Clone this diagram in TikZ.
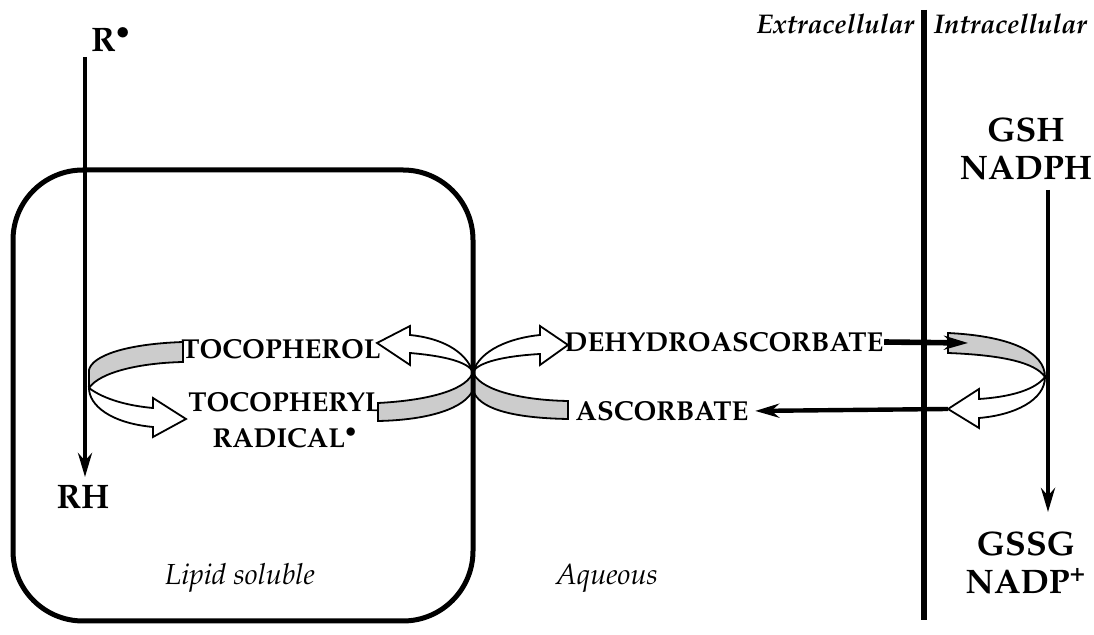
\documentclass[tikz,border=0pt]{standalone}
\usepackage[T1]{fontenc}
\usepackage{mathpazo}
\usetikzlibrary{arrows.meta}

\begin{document}
\begin{tikzpicture}[x=.5pt,y=-.5pt,line width=.9pt,
  lbl/.style={font=\fontsize{13.7}{18}\selectfont\bfseries,inner sep=0pt,align=center},
  big/.style={font=\fontsize{17}{19}\selectfont\bfseries,inner sep=0pt,align=center},
  reg/.style={font=\fontsize{14.5}{16}\selectfont\itshape,inner sep=0pt},
  rxn/.style={line width=2pt,-{Stealth[length=12pt,width=7pt]}},
  back/.style={draw,fill=black!20},
  front/.style={draw,fill=white}]
\useasboundingbox (0,0) rectangle (1094,635);
% labels
\node[big] (r) at (111,40) {R$^{\bullet}$};\node[big] (rh) at (83,497) {RH};
\node[big] (gsh) at (1026,149) {GSH\\NADPH};\node[big] (gssg) at (1026,563) {GSSG\\NADP\textsuperscript{+}};
\node[lbl] (toc) at (281,349) {TOCOPHEROL};\node[lbl] (tocr) at (285,420) {TOCOPHERYL\\RADICAL$^{\bullet}$};
\node[lbl] (dha) at (724,342) {DEHYDROASCORBATE};\node[lbl] (asc) at (662,411) {ASCORBATE};
\node[reg] (lip) at (240,578) {Lipid soluble};\node[reg] (aq) at (607,578) {Aqueous};
\node[reg,font=\fontsize{13.5}{15}\selectfont\bfseries\itshape,anchor=east] (ext) at (915,24) {Extracellular};
\node[reg,font=\fontsize{13.5}{15}\selectfont\bfseries\itshape,anchor=west] (int) at (933,24) {Intracellular};
% ribbons
\filldraw[back] (183,342) .. controls (125,344) and (92,356) .. (89,370) -- (89,388) .. controls (100,372) and (140,363) .. (183,362) -- cycle;
\filldraw[front] (89,388) .. controls (105,400) and (130,406) .. (153,408) -- (153,398) -- (186,419) -- (153,437) -- (153,427) .. controls (110,423) and (89,405) .. (89,388) -- cycle;
\filldraw[back] (378,403) .. controls (435,400) and (468,388) .. (473,372) -- (473,390) .. controls (465,408) and (430,420) .. (378,421) -- cycle;
\filldraw[front] (473,372) .. controls (465,350) and (440,338) .. (410,335) -- (410,326) -- (377,343) -- (410,365) -- (410,353) .. controls (445,356) and (468,362) .. (473,372) -- cycle;
\filldraw[front] (473,372) .. controls (480,350) and (510,338) .. (540,335) -- (540,326) -- (568,345) -- (540,365) -- (540,354) .. controls (505,356) and (478,362) .. (473,372) -- cycle;
\filldraw[back] (473,372) .. controls (478,388) and (515,400) .. (568,401) -- (568,419) .. controls (510,418) and (478,408) .. (473,390) -- cycle;
\filldraw[back] (948,333) .. controls (1010,336) and (1045,352) .. (1045,377) .. controls (1035,362) and (1000,355) .. (948,353) -- cycle;
\filldraw[front] (1045,377) .. controls (1035,390) and (1010,397) .. (979,399) -- (979,389) -- (948,409) -- (979,428) -- (979,418) .. controls (1015,415) and (1045,400) .. (1045,377) -- cycle;
% compartments
\draw[line width=2.5pt,rounded corners=35pt] (13,170) rectangle (473,621);
\draw[line width=3pt] (924,10) -- (924,620);
% reactions
\coordinate (rtop) at (85,57);\coordinate (rbot) at (85,477);
\coordinate (gtop) at (1048,190);\coordinate (gbot) at (1048,512);
\coordinate (dhaend) at (968,343);\coordinate (ascst) at (948,409);
\draw[rxn] (rtop) -- (rbot);\draw[rxn] (gtop) -- (gbot);
\draw[rxn,line width=2.8pt] (dha.east) -- (dhaend);
\draw[rxn,line width=2.2pt,shorten >=3pt] (ascst) -- (asc.east);
\end{tikzpicture}
\end{document}
